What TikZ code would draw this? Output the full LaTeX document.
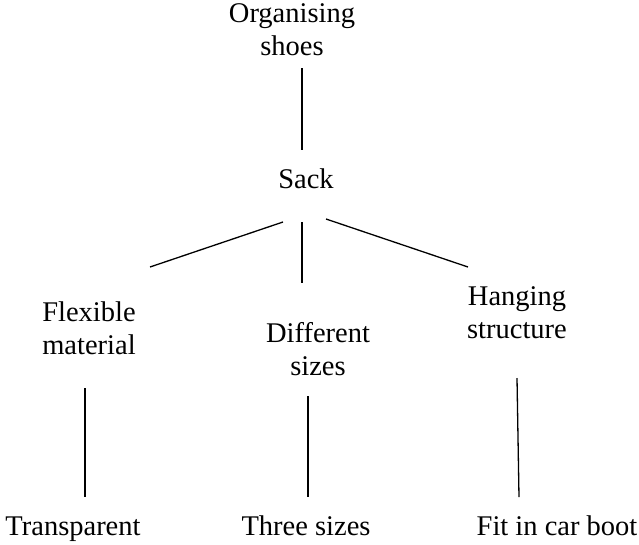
\documentclass[tikz,border=0pt]{standalone}
\usepackage{fontspec}
\setmainfont{Liberation Serif}
\begin{document}
\begin{tikzpicture}[x=1pt,y=-1pt,
  lbl/.style={inner sep=0pt,align=center,anchor=base,font=\fontsize{28.5}{33}\selectfont},
  conn/.style={line width=1.3pt}]
\useasboundingbox (0,0) rectangle (639,544);
\node[lbl] (org) at (292,55) {Organising\\shoes};
\node[lbl] (sack) at (306,188) {Sack};
\node[lbl] (flex) at (89,354) {Flexible\\material};
\node[lbl] (diff) at (318,375) {Different\\sizes};
\node[lbl] (hang) at (517,338) {Hanging\\structure};
\node[lbl] (trans) at (73,535) {Transparent};
\node[lbl] (three) at (306,535) {Three sizes};
\node[lbl] (fit) at (557,535) {Fit in car boot};
\coordinate (a1) at (302,68);  \coordinate (a2) at (302,150);
\coordinate (b1) at (283,222); \coordinate (b2) at (150,267);
\coordinate (c1) at (302,222); \coordinate (c2) at (302,283);
\coordinate (d1) at (326,219); \coordinate (d2) at (468,267);
\coordinate (e1) at (85,388);  \coordinate (e2) at (85,497);
\coordinate (f1) at (308,396); \coordinate (f2) at (308,497);
\coordinate (g1) at (517,378); \coordinate (g2) at (519,497);
\draw[conn] (a1) -- (a2);
\draw[conn] (b1) -- (b2);
\draw[conn] (c1) -- (c2);
\draw[conn] (d1) -- (d2);
\draw[conn] (e1) -- (e2);
\draw[conn] (f1) -- (f2);
\draw[conn] (g1) -- (g2);
\end{tikzpicture}
\end{document}
